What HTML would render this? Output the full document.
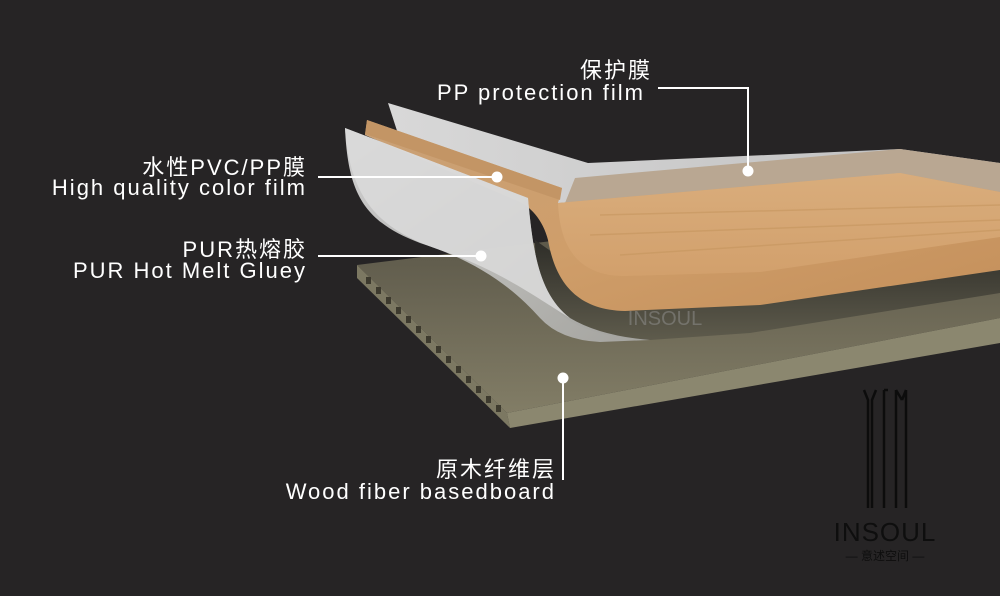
<!DOCTYPE html>
<html><head><meta charset="utf-8"><style>
html,body{margin:0;padding:0;background:#262425;}
svg{display:block}
text{font-family:"Liberation Sans","Noto Sans CJK SC",sans-serif;fill:#fff;letter-spacing:2px}
</style></head><body>
<svg width="1000" height="596" viewBox="0 0 1000 596" xmlns="http://www.w3.org/2000/svg">
<defs>
<linearGradient id="wood" x1="0" y1="0" x2="1" y2="1">
<stop offset="0" stop-color="#c9a177"/><stop offset="0.5" stop-color="#cf9e6a"/><stop offset="1" stop-color="#c48f5a"/>
</linearGradient>
<linearGradient id="face" x1="0" y1="0" x2="0" y2="1">
<stop offset="0" stop-color="#d9ad7c"/><stop offset="1" stop-color="#d2a06c"/>
</linearGradient>
<linearGradient id="board" x1="0" y1="0" x2="0" y2="1">
<stop offset="0" stop-color="#5d594a"/><stop offset="1" stop-color="#827d66"/>
</linearGradient>
<linearGradient id="glue" x1="0" y1="0" x2="0" y2="1">
<stop offset="0" stop-color="#2e2d28"/><stop offset="1" stop-color="#5e5b4c"/>
</linearGradient>
<linearGradient id="film" x1="0" y1="0" x2="1" y2="1">
<stop offset="0" stop-color="#e4e4e4"/><stop offset="1" stop-color="#a9a9a6"/>
</linearGradient>
<linearGradient id="film2" x1="0" y1="0" x2="1" y2="0">
<stop offset="0" stop-color="#ececec"/><stop offset="1" stop-color="#cfcfcf"/>
</linearGradient>
</defs>
<rect width="1000" height="596" fill="#262425"/>
<!-- base board -->
<polygon points="357,265 560,240 1000,240 1000,318 507,413" fill="url(#board)"/>
<polygon points="357,265 507,413 510,428 357,278" fill="#7c7862"/>
<polygon points="507,413 1000,318 1000,343 510,428" fill="#8b876f"/>
<g fill="#3d3a2e">
<rect x="366" y="277" width="5" height="7"/><rect x="376" y="287" width="5" height="7"/><rect x="386" y="297" width="5" height="7"/><rect x="396" y="307" width="5" height="7"/><rect x="406" y="316" width="5" height="7"/><rect x="416" y="326" width="5" height="7"/><rect x="426" y="336" width="5" height="7"/><rect x="436" y="346" width="5" height="7"/><rect x="446" y="356" width="5" height="7"/><rect x="456" y="366" width="5" height="7"/><rect x="466" y="376" width="5" height="7"/><rect x="476" y="386" width="5" height="7"/><rect x="486" y="396" width="5" height="7"/><rect x="496" y="405" width="5" height="7"/>
</g>
<!-- glue layer -->
<path d="M535,240 C535,300 555,335 650,340 L750,333 L1000,293 L1000,255 L620,300 Z" fill="url(#glue)"/>
<!-- protection film curl (back) -->
<path d="M388,103 L588,163 L900,149 L1000,163 L1000,200 L620,240 Q575,240 565,210 L400,140 Z" fill="url(#film2)" opacity="0.9"/>
<!-- film band tan -->
<path d="M575,178 L900,149 L1000,163 L1000,195 L900,173 L565,203 Z" fill="#b9a792"/>
<!-- wood sheet -->
<path d="M367,120 L562,188 L558,203 L900,173 L1000,192 L1000,270 L760,305 L625,311 C575,310 555,280 548,240 C543,220 530,205 515,200 L365,135 Z" fill="url(#wood)"/>
<path d="M367,120 L562,188 L560,200 L365,134 Z" fill="#c39565"/>
<path d="M558,203 L900,173 L1000,192 L1000,237 L760,272 L625,276 C580,276 560,250 558,203 Z" fill="url(#face)"/>
<g stroke="#c6965f" stroke-width="1.5" opacity="0.6">
<line x1="600" y1="215" x2="1000" y2="205"/><line x1="590" y1="235" x2="1000" y2="220"/><line x1="620" y1="255" x2="1000" y2="230"/>
</g>
<!-- front clear film -->
<path d="M345,128 L528,198 C533,255 540,295 570,318 Q600,336 650,340 L600,342 Q560,340 540,318 C515,290 480,262 420,243 C365,222 348,195 345,128 Z" fill="url(#film)" opacity="0.9"/>
<path d="M345,128 L528,198 C533,255 540,295 570,318 C540,300 500,270 440,250 C380,230 350,200 345,128 Z" fill="#dadada" opacity="0.85"/>
<!-- watermark -->
<text x="665" y="325" font-size="20" text-anchor="middle" style="fill:#9a9a9a;opacity:.45;letter-spacing:0">INSOUL</text>
<!-- connectors -->
<g stroke="#fff" stroke-width="2" fill="none">
<polyline points="658,88 748,88 748,170"/>
<line x1="318" y1="177" x2="497" y2="177"/>
<line x1="318" y1="256" x2="480" y2="256"/>
<line x1="563" y1="378" x2="563" y2="480"/>
</g>
<g fill="#fff">
<circle cx="748" cy="171" r="5.5"/><circle cx="497" cy="177" r="5.5"/><circle cx="481" cy="256" r="5.5"/><circle cx="563" cy="378" r="5.5"/>
</g>
<!-- labels -->
<g font-size="22">
<text x="652" y="78" text-anchor="end">保护膜</text>
<text x="645" y="100" text-anchor="end">PP protection film</text>
<text x="307" y="175" text-anchor="end">水性PVC/PP膜</text>
<text x="307" y="195" text-anchor="end">High quality color film</text>
<text x="307" y="257" text-anchor="end">PUR热熔胶</text>
<text x="307" y="278" text-anchor="end">PUR Hot Melt Gluey</text>
<text x="556" y="477" text-anchor="end">原木纤维层</text>
<text x="556" y="499" text-anchor="end">Wood fiber basedboard</text>
</g>
<!-- logo -->
<g stroke="#0c0c0c" stroke-width="2.5" fill="none">
<path d="M864,390 L868,400 L868,508 M876,390 L872,400 L872,508"/>
<path d="M884,390 L884,508 M884,390 L888,390"/>
<path d="M896,390 L896,508 M896,390 L902,400 M906,390 L906,508 M906,390 L902,400"/>
</g>
<text x="885" y="541" font-size="26" text-anchor="middle" style="fill:#0e0e0e;letter-spacing:1px">INSOUL</text>
<text x="885" y="560" font-size="12" text-anchor="middle" style="fill:#0e0e0e;letter-spacing:0">— 意述空间 —</text>
</svg>
</body></html>
